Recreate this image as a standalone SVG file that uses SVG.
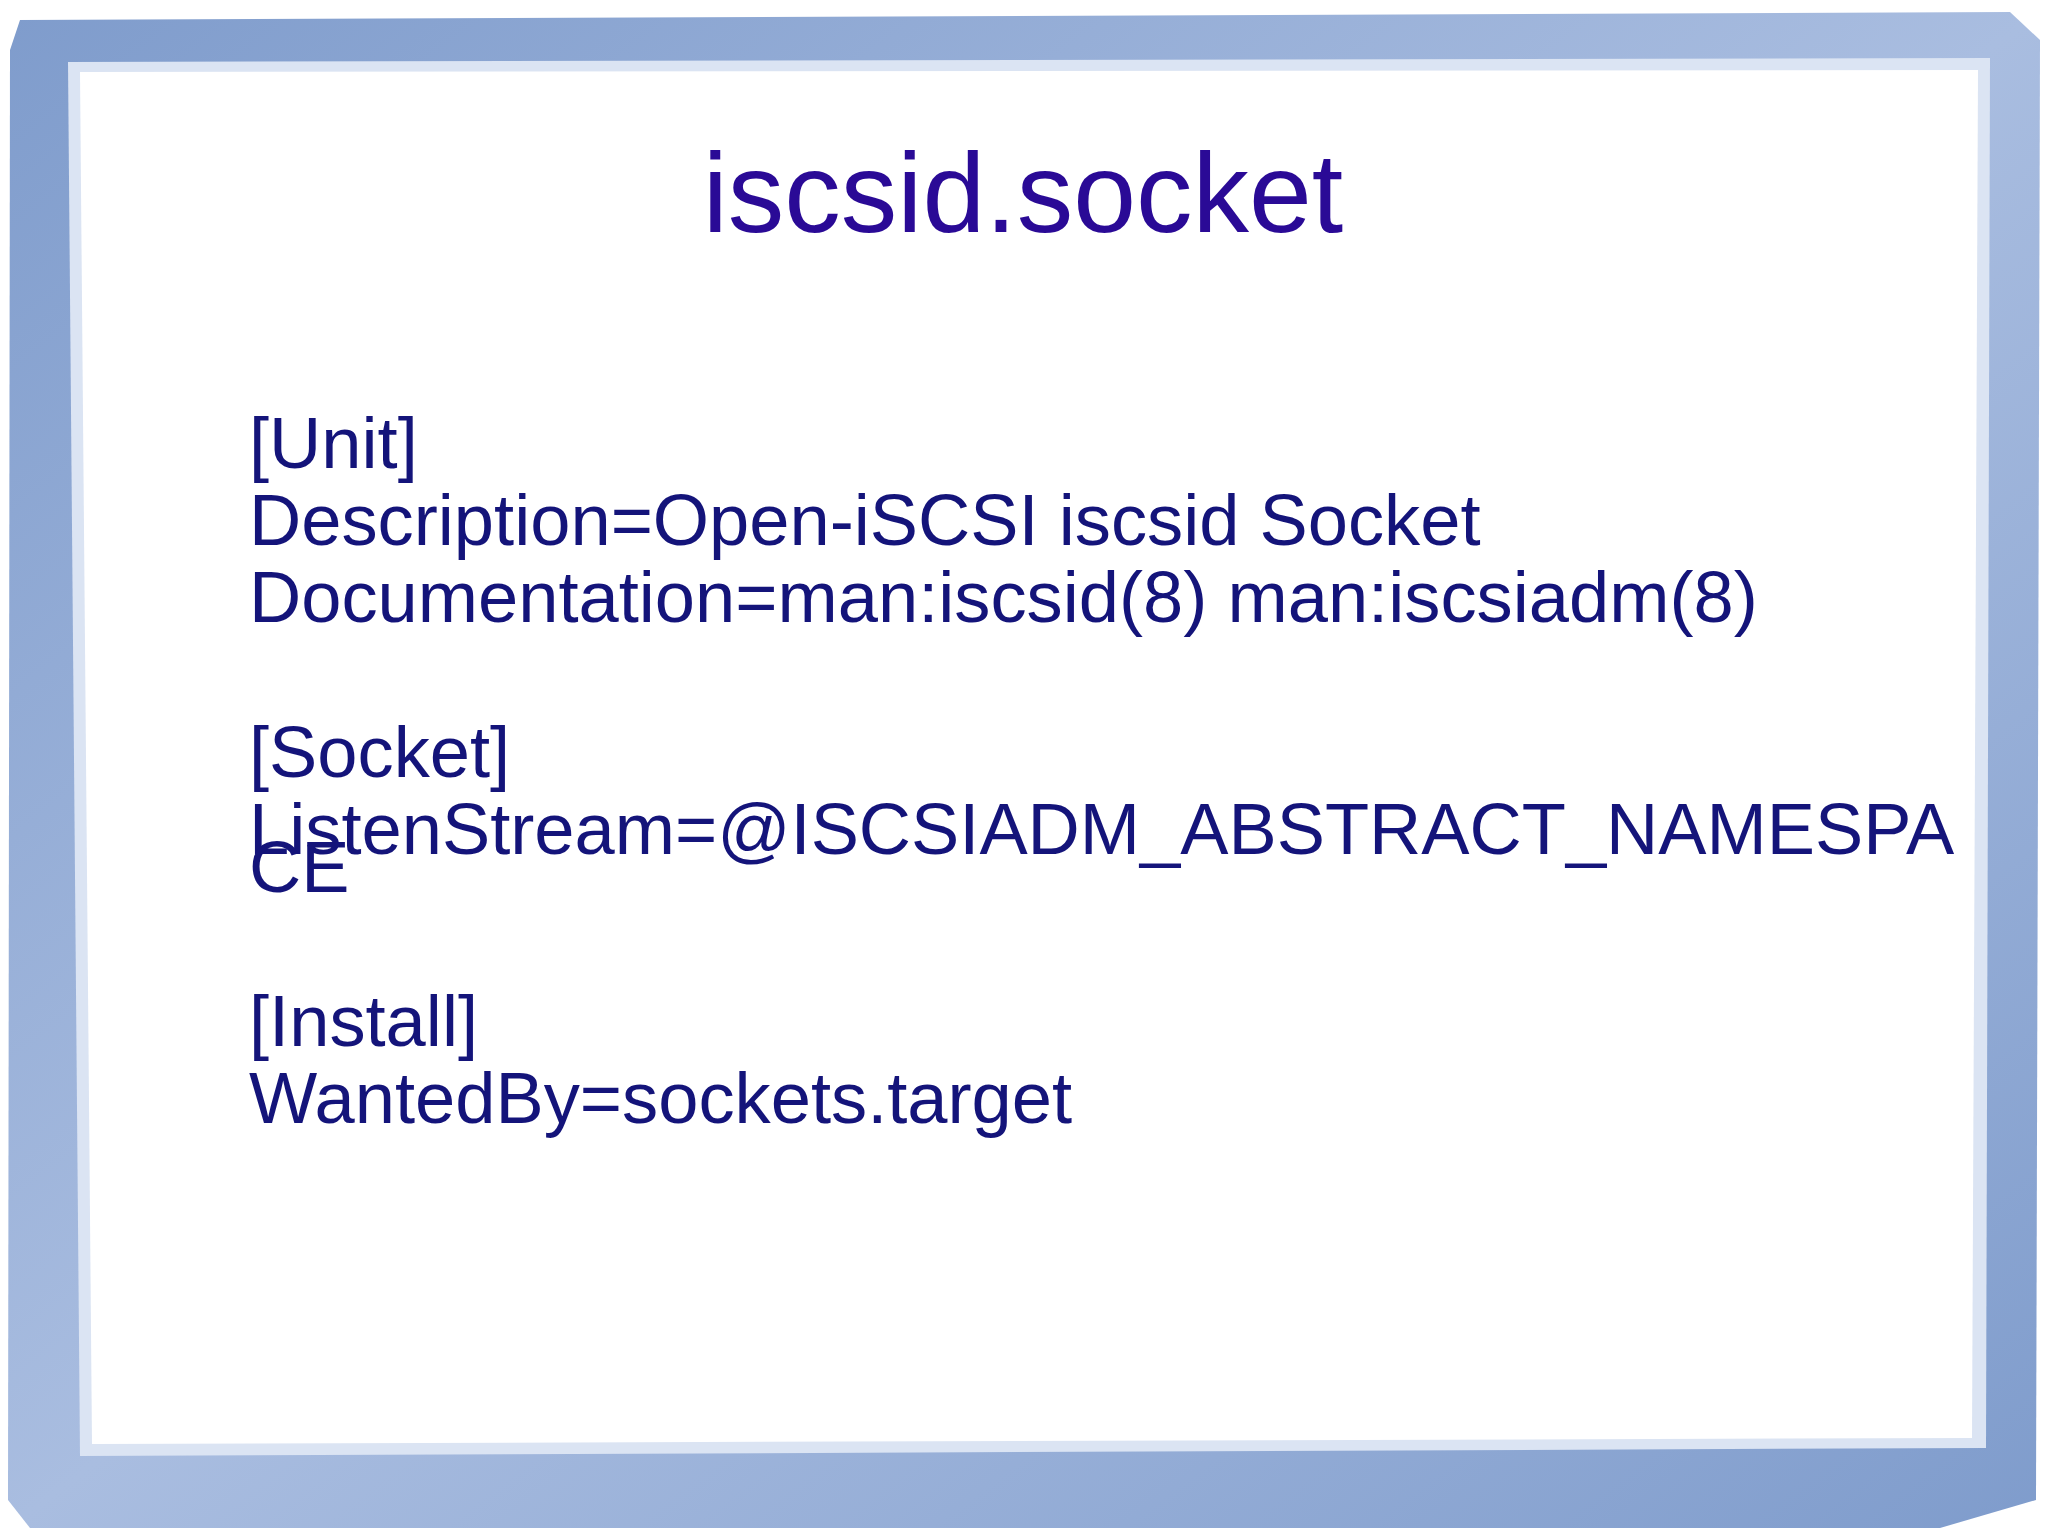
<svg xmlns="http://www.w3.org/2000/svg" width="2048" height="1535" viewBox="0 0 2048 1535">
<defs>
<style>
.b{font-family:"Liberation Sans",Arial,sans-serif;font-size:72.3px;fill:#14147a}
.t{font-family:"Liberation Sans",Arial,sans-serif;font-size:113px;fill:#2a0a96}
</style>
<linearGradient id="fr" x1="0" y1="0" x2="1" y2="1">
<stop offset="0" stop-color="#7f9ccc"/><stop offset="0.5" stop-color="#a9bde0"/><stop offset="1" stop-color="#7f9ccc"/>
</linearGradient>
</defs>
<rect width="2048" height="1535" fill="#ffffff"/>
<g id="frame">
<path d="M20,20 L2010,12 L2040,40 L2036,1500 L1940,1528 L30,1528 L8,1500 L10,50 Z" fill="url(#fr)"/>
<path d="M68,62 L1990,58 L1986,1448 L80,1456 Z" fill="#dbe4f3"/>
<path d="M80,72 L1978,70 L1972,1438 L92,1444 Z" fill="#ffffff"/>
</g>
<g id="title"><text class="t" x="1023" y="232" text-anchor="middle">iscsid.socket</text></g>
<g id="body">
<text class="b" x="249" y="468">[Unit]</text>
<text class="b" x="249" y="545">Description=Open-iSCSI iscsid Socket</text>
<text class="b" x="249" y="622">Documentation=man:iscsid(8) man:iscsiadm(8)</text>
<text class="b" x="249" y="777">[Socket]</text>
<text class="b" x="249" y="854">ListenStream=@ISCSIADM_ABSTRACT_NAMESPA</text>
<text class="b" x="249" y="892">CE</text>
<text class="b" x="249" y="1046">[Install]</text>
<text class="b" x="249" y="1123">WantedBy=sockets.target</text>
</g>
</svg>
